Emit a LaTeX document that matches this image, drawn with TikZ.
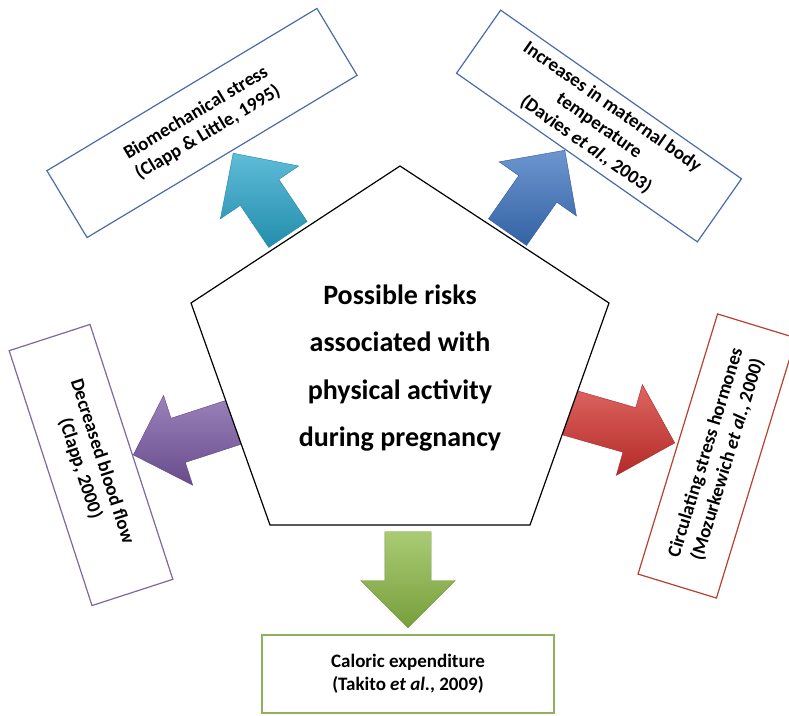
\documentclass[tikz,border=0pt]{standalone}
\usepackage{fontspec}
\setmainfont{Carlito}
\usepackage{xcolor}
\usepackage{tikz}
\usetikzlibrary{shapes.arrows,shapes.geometric,positioning}
\definecolor{cyanarr}{HTML}{29A6CB}
\definecolor{bluearr}{HTML}{3C73C0}
\definecolor{purplearr}{HTML}{7A59A4}
\definecolor{redarr}{HTML}{D3322E}
\definecolor{greenarr}{HTML}{8DBA46}
\definecolor{bluebox}{HTML}{4A6DA8}
\definecolor{purplebox}{HTML}{8066A3}
\definecolor{redbox}{HTML}{B8402F}
\definecolor{greenbox}{HTML}{8CB35C}
\tikzset{
  riskbox/.style={rectangle, draw=#1, line width=1.2pt, fill=white, align=center,
              font=\bfseries\fontsize{19}{23}\selectfont, inner sep=2pt},
  blockarr/.style={single arrow, draw=#1!80!black, line width=0.4pt,
              top color=#1!75!white, middle color=#1, bottom color=#1!85!black,
              inner xsep=0pt, inner ysep=23pt, single arrow head extend=24pt,
              single arrow tip angle=90, anchor=tip},
  centre/.style={align=center, font=\bfseries\fontsize{28}{47.5}\selectfont}
}

\begin{document}
\begin{tikzpicture}[x=1pt, y=-1pt]
  \useasboundingbox (0,0) rectangle (789,715);
  % block arrows, behind the pentagon
  \node[blockarr=cyanarr, minimum height=98pt, rotate=124] (upleft) at (233,153) {};
  \node[blockarr=bluearr, minimum height=100pt, rotate=55] (upright) at (565,150) {};
  \node[blockarr=purplearr, minimum height=110pt, rotate=198] (left) at (133,455) {};
  \node[blockarr=redarr, minimum height=110pt, rotate=-16] (right) at (675,443) {};
  \node[blockarr=greenarr, minimum height=96pt, rotate=-90] (down) at (408,628) {};
  % centre
  \draw[line width=1.2pt, fill=white] (400,166) -- (609,303) -- (530,525) -- (270,525) -- (191,303) -- cycle;
  \node[centre] (risks) at (400,368) {Possible risks\\associated with\\physical activity\\during pregnancy};
  % outer boxes
  \node[riskbox=bluebox, minimum width=315pt, minimum height=78pt, rotate=31] (biomech) at (202,123)
    {Biomechanical stress\\(Clapp \& Little, 1995)};
  \node[riskbox=bluebox, minimum width=294pt, minimum height=77pt, rotate=-35] (temp) at (599,126)
    {Increases in maternal body\\temperature\\(Davies \textit{et al.}, 2003)};
  \node[riskbox=purplebox, minimum width=268pt, minimum height=85pt, rotate=-72] (blood) at (91,465)
    {Decreased blood flow\\(Clapp, 2000)};
  \node[riskbox=redbox, minimum width=272pt, minimum height=82pt, rotate=73] (hormones) at (717,456)
    {Circulating stress hormones\\(Mozurkewich \textit{et al.}, 2000)};
  \node[riskbox=greenbox, minimum width=292pt, minimum height=78pt] (caloric) at (408,674)
    {Caloric expenditure\\(Takito \textit{et al.}, 2009)};
\end{tikzpicture}
\end{document}
